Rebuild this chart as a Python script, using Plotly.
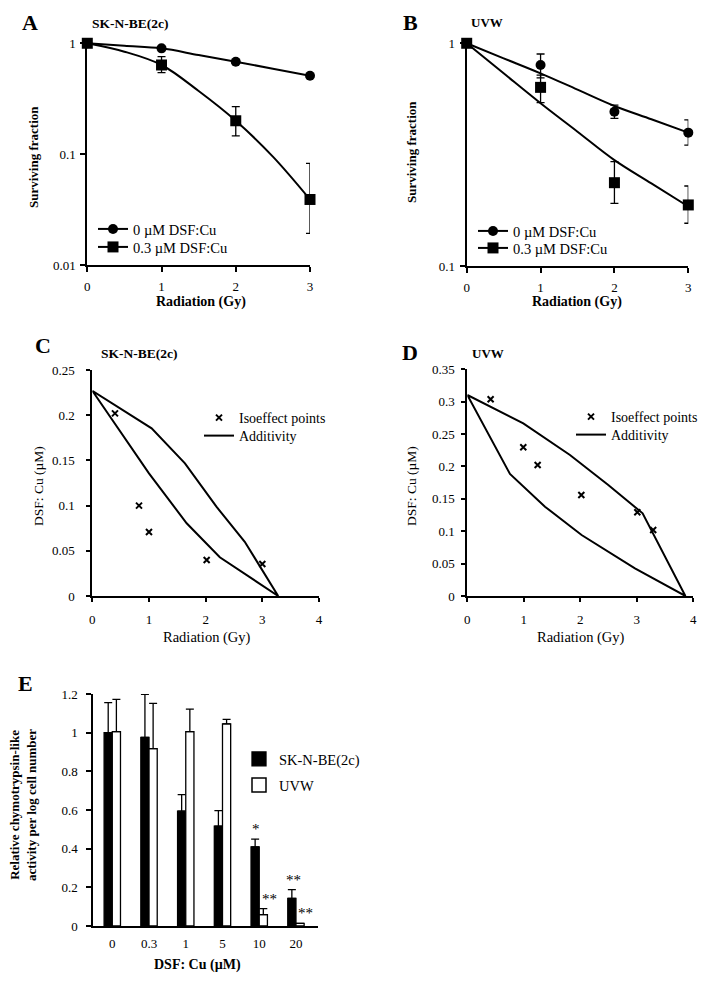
import plotly.graph_objects as go

# ---------------- data ----------------
dose = [0, 1, 2, 3]
fit_dose = [0, 0.5, 1, 1.5, 2, 2.5, 3]

# Panel A  SK-N-BE(2c)
a_ctrl = [1.0, 0.90, 0.682, 0.51]
a_dsf = [1.0, 0.637, 0.20, 0.039]
a_dsf_hi = [1.0, 0.757, 0.268, 0.0826]
a_dsf_lo = [1.0, 0.543, 0.146, 0.0193]
a_fit_ctrl = [1.0, 0.949, 0.90, 0.783, 0.682, 0.59, 0.51]
a_fit_dsf = [1.0, 0.84, 0.637, 0.371, 0.20, 0.095, 0.039]

# Panel B  UVW
b_ctrl = [1.0, 0.799, 0.493, 0.397]
b_ctrl_hi = [1.0, 0.895, 0.528, 0.453]
b_ctrl_lo = [1.0, 0.70, 0.46, 0.349]
b_dsf = [1.0, 0.634, 0.2366, 0.188]
b_dsf_hi = [1.0, 0.72, 0.294, 0.2287]
b_dsf_lo = [1.0, 0.541, 0.191, 0.1556]
b_fit_ctrl = [1.0, 0.856, 0.733, 0.619, 0.523, 0.456, 0.397]
b_fit_dsf = [1.0, 0.733, 0.538, 0.401, 0.299, 0.235, 0.185]

# Panel C  isobologram SK-N-BE(2c)
c_iso_x = [0.40, 0.824, 1.0, 2.018, 3.0]
c_iso_y = [0.202, 0.100, 0.0708, 0.0398, 0.0354]
c_upper_x = [0, 1.047, 1.635, 2.19, 2.69, 3.28]
c_upper_y = [0.227, 0.1855, 0.1468, 0.0988, 0.060, 0]
c_lower_x = [0, 1.0, 1.665, 2.25, 3.28]
c_lower_y = [0.227, 0.1357, 0.0804, 0.0428, 0]

# Panel D  isobologram UVW
d_iso_x = [0.413, 0.991, 1.245, 2.018, 3.009, 3.29]
d_iso_y = [0.3037, 0.2296, 0.2023, 0.156, 0.1292, 0.1019]
d_upper_x = [0, 0.991, 1.817, 2.495, 3.103, 3.86]
d_upper_y = [0.3104, 0.2666, 0.2177, 0.1714, 0.1276, 0]
d_lower_x = [0, 0.755, 1.375, 2.023, 2.967, 3.86]
d_lower_y = [0.3104, 0.1884, 0.1379, 0.0942, 0.0427, 0]

# Panel E  chymotrypsin-like activity
e_conc = ["0", "0.3", "1", "5", "10", "20"]
e_sk = [1.0, 0.975, 0.594, 0.516, 0.409, 0.143]
e_sk_hi = [1.155, 1.198, 0.68, 0.597, 0.449, 0.188]
e_uvw = [1.005, 0.917, 1.005, 1.045, 0.059, 0.014]
e_uvw_hi = [1.172, 1.152, 1.122, 1.069, 0.09, 0.014]
e_stars = ["*", "**", "**", "**"]
e_star_x = [3.91, 4.27, 4.94, 5.25]
e_star_y = [0.449, 0.09, 0.188, 0.014]

# ---------------- helpers ----------------
W, H = 714, 984
OFF = 8  # page body margin of the browser
FONT = "Liberation Serif"


def fx(p):
    return (p - OFF) / W


def fy(p):
    return 1 - (p - OFF) / H


def diff(a, b):
    return [x - y for x, y in zip(a, b)]


def axis(**kw):
    base = dict(showline=True, linecolor="black", linewidth=2, ticks="outside",
                ticklen=5, tickwidth=1.5, tickcolor="black", showgrid=False,
                zeroline=False, fixedrange=True, layer="below traces", automargin=False,
                tickfont=dict(family=FONT, size=13, color="black"))
    base.update(kw)
    return base


def leg(x, y, size=14):
    return dict(x=fx(x), y=fy(y), xanchor="left", yanchor="middle",
                bgcolor="rgba(0,0,0,0)", borderwidth=0,
                font=dict(family=FONT, size=size, color="black"))


def txt(x, y, s, size=13, bold=False, angle=0):
    return dict(x=fx(x), y=fy(y), xref="paper", yref="paper",
                text=f"<b>{s}</b>" if bold else s, showarrow=False,
                font=dict(family=FONT, size=size, color="black"),
                textangle=angle, xanchor="center", yanchor="middle")


fig = go.Figure()
LW = 2

# ---------------- Panel A ----------------
fig.add_trace(go.Scatter(x=fit_dose, y=a_fit_ctrl, mode="lines", line=dict(color="black", width=LW, shape="spline"),
                         xaxis="x", yaxis="y", showlegend=False))
fig.add_trace(go.Scatter(x=fit_dose, y=a_fit_dsf, mode="lines", line=dict(color="black", width=LW, shape="spline"),
                         xaxis="x", yaxis="y", showlegend=False))
fig.add_trace(go.Scatter(x=dose, y=a_ctrl, mode="markers", marker=dict(symbol="circle", size=10, color="black"),
                         xaxis="x", yaxis="y", showlegend=False, cliponaxis=False))
fig.add_trace(go.Scatter(x=dose, y=a_dsf, mode="markers", marker=dict(symbol="square", size=11, color="black"),
                         error_y=dict(type="data", symmetric=False, array=diff(a_dsf_hi, a_dsf),
                                      arrayminus=diff(a_dsf, a_dsf_lo), color="black", thickness=1.3, width=4),
                         xaxis="x", yaxis="y", showlegend=False, cliponaxis=False))
fig.add_trace(go.Scatter(x=[None], y=[None], mode="lines+markers", name="0 µM DSF:Cu",
                         line=dict(color="black", width=LW), marker=dict(symbol="circle", size=10, color="black"),
                         xaxis="x", yaxis="y", legend="legend"))
fig.add_trace(go.Scatter(x=[None], y=[None], mode="lines+markers", name="0.3 µM DSF:Cu",
                         line=dict(color="black", width=LW), marker=dict(symbol="square", size=11, color="black"),
                         xaxis="x", yaxis="y", legend="legend2"))

# ---------------- Panel B ----------------
fig.add_trace(go.Scatter(x=fit_dose, y=b_fit_ctrl, mode="lines", line=dict(color="black", width=LW, shape="spline"),
                         xaxis="x2", yaxis="y2", showlegend=False))
fig.add_trace(go.Scatter(x=fit_dose, y=b_fit_dsf, mode="lines", line=dict(color="black", width=LW, shape="spline"),
                         xaxis="x2", yaxis="y2", showlegend=False))
fig.add_trace(go.Scatter(x=dose, y=b_ctrl, mode="markers", marker=dict(symbol="circle", size=10, color="black"),
                         error_y=dict(type="data", symmetric=False, array=diff(b_ctrl_hi, b_ctrl),
                                      arrayminus=diff(b_ctrl, b_ctrl_lo), color="black", thickness=1.3, width=4),
                         xaxis="x2", yaxis="y2", showlegend=False, cliponaxis=False))
fig.add_trace(go.Scatter(x=dose, y=b_dsf, mode="markers", marker=dict(symbol="square", size=11, color="black"),
                         error_y=dict(type="data", symmetric=False, array=diff(b_dsf_hi, b_dsf),
                                      arrayminus=diff(b_dsf, b_dsf_lo), color="black", thickness=1.3, width=4),
                         xaxis="x2", yaxis="y2", showlegend=False, cliponaxis=False))
fig.add_trace(go.Scatter(x=[None], y=[None], mode="lines+markers", name="0 µM DSF:Cu",
                         line=dict(color="black", width=LW), marker=dict(symbol="circle", size=10, color="black"),
                         xaxis="x2", yaxis="y2", legend="legend3"))
fig.add_trace(go.Scatter(x=[None], y=[None], mode="lines+markers", name="0.3 µM DSF:Cu",
                         line=dict(color="black", width=LW), marker=dict(symbol="square", size=11, color="black"),
                         xaxis="x2", yaxis="y2", legend="legend4"))

# ---------------- Panel C ----------------
fig.add_trace(go.Scatter(x=c_upper_x + c_lower_x[::-1], y=c_upper_y + c_lower_y[::-1], mode="lines",
                         name="Additivity", line=dict(color="black", width=LW),
                         xaxis="x3", yaxis="y3", legend="legend6"))
fig.add_trace(go.Scatter(x=c_iso_x, y=c_iso_y, mode="markers", name="Isoeffect points",
                         marker=dict(symbol="x-thin", size=6, line=dict(color="black", width=2)),
                         xaxis="x3", yaxis="y3", legend="legend5"))

# ---------------- Panel D ----------------
fig.add_trace(go.Scatter(x=d_upper_x + d_lower_x[::-1], y=d_upper_y + d_lower_y[::-1], mode="lines",
                         name="Additivity", line=dict(color="black", width=LW),
                         xaxis="x4", yaxis="y4", legend="legend8"))
fig.add_trace(go.Scatter(x=d_iso_x, y=d_iso_y, mode="markers", name="Isoeffect points",
                         marker=dict(symbol="x-thin", size=6, line=dict(color="black", width=2)),
                         xaxis="x4", yaxis="y4", legend="legend7"))

# ---------------- Panel E ----------------
xi = list(range(len(e_conc)))
fig.add_trace(go.Bar(x=xi, y=e_sk, marker=dict(color="black", line=dict(color="black", width=1.3)),
                     error_y=dict(type="data", symmetric=False, array=diff(e_sk_hi, e_sk),
                                  arrayminus=[0] * len(e_sk), color="black", thickness=1.3, width=4),
                     xaxis="x5", yaxis="y5", showlegend=False))
fig.add_trace(go.Bar(x=xi, y=e_uvw, marker=dict(color="white", line=dict(color="black", width=1.3)),
                     error_y=dict(type="data", symmetric=False, array=diff(e_uvw_hi, e_uvw),
                                  arrayminus=[0] * len(e_uvw), color="black", thickness=1.3, width=4),
                     xaxis="x5", yaxis="y5", showlegend=False))
fig.add_trace(go.Scatter(x=[None], y=[None], mode="markers", name="SK-N-BE(2c)",
                         marker=dict(symbol="square", size=14, color="black", line=dict(color="black", width=1.3)),
                         xaxis="x5", yaxis="y5", legend="legend9"))
fig.add_trace(go.Scatter(x=[None], y=[None], mode="markers", name="UVW",
                         marker=dict(symbol="square", size=14, color="white", line=dict(color="black", width=1.5)),
                         xaxis="x5", yaxis="y5", legend="legend10"))

annotations = []
for s, x, y in zip(e_stars, e_star_x, e_star_y):
    annotations.append(dict(x=x, y=y, xref="x5", yref="y5", text=s, showarrow=False,
                            font=dict(family=FONT, size=15, color="black"),
                            xanchor="center", yanchor="bottom"))

# ---------------- text ----------------
annotations += [
    txt(30, 22, "A", size=22, bold=True),
    txt(130, 23, "SK-N-BE(2c)", size=13.5, bold=True),
    txt(410, 22, "B", size=22, bold=True),
    txt(487, 22, "UVW", size=13, bold=True),
    txt(43, 345, "C", size=22, bold=True),
    txt(139, 354, "SK-N-BE(2c)", size=13.5, bold=True),
    txt(410, 352, "D", size=22, bold=True),
    txt(488, 353, "UVW", size=13, bold=True),
    txt(25, 683, "E", size=22, bold=True),
    # axis titles
    txt(34, 157, "Surviving fraction", size=13, bold=True, angle=-90),
    txt(201, 302, "Radiation (Gy)", size=14, bold=True),
    txt(411, 152, "Surviving fraction", size=13, bold=True, angle=-90),
    txt(577, 302, "Radiation (Gy)", size=14, bold=True),
    txt(38, 486, "DSF: Cu (µM)", size=13.5, angle=-90),
    txt(207, 637, "Radiation (Gy)", size=14.5),
    txt(411, 486, "DSF: Cu (µM)", size=13.5, angle=-90),
    txt(581, 637, "Radiation (Gy)", size=14.5),
    txt(23, 805, "Relative chymotrypsin-like<br>activity per log cell number", size=13, bold=True, angle=-90),
    txt(197, 965, "DSF: Cu (µM)", size=14, bold=True),
]

layout = dict(
    width=W, height=H, margin=dict(l=0, r=0, t=0, b=0, pad=0, autoexpand=False),
    paper_bgcolor="white", plot_bgcolor="white",
    font=dict(family=FONT, color="black"),
    annotations=annotations,
    barmode="group", bargap=0.554, bargroupgap=0,
    # A
    xaxis=axis(domain=[fx(87.3), fx(310)], range=[0, 3], tickvals=[0, 1, 2, 3], anchor="y",
               ticklabelstandoff=3),
    yaxis=axis(domain=[fy(265), fy(41.5)], type="log", range=[-2, 0.016], tickvals=[0.01, 0.1, 1],
               ticktext=["0.01", "0.1", "1"], anchor="x", ticklabelstandoff=2),
    # B
    xaxis2=axis(domain=[fx(466.7), fx(688.3)], range=[0, 3], tickvals=[0, 1, 2, 3], anchor="y2",
                ticklabelstandoff=3),
    yaxis2=axis(domain=[fy(266), fy(41.5)], type="log", range=[-1, 0.008], tickvals=[0.1, 1],
                ticktext=["0.1", "1"], anchor="x2", ticklabelstandoff=2),
    # C
    xaxis3=axis(domain=[fx(92.3), fx(319)], range=[0, 4], tickvals=[0, 1, 2, 3, 4], anchor="y3",
                ticklen=4, ticklabelstandoff=6),
    yaxis3=axis(domain=[fy(596), fy(370)], range=[0, 0.25], tickvals=[0, 0.05, 0.1, 0.15, 0.2, 0.25],
                ticktext=["0", "0.05", "0.1", "0.15", "0.2", "0.25"], anchor="x3", ticklen=4,
                ticklabelstandoff=9),
    # D
    xaxis4=axis(domain=[fx(467.3), fx(693.3)], range=[0, 4], tickvals=[0, 1, 2, 3, 4], anchor="y4",
                ticklen=4, ticklabelstandoff=6),
    yaxis4=axis(domain=[fy(596), fy(369.3)], range=[0, 0.35],
                tickvals=[0, 0.05, 0.1, 0.15, 0.2, 0.25, 0.3, 0.35],
                ticktext=["0", "0.05", "0.1", "0.15", "0.2", "0.25", "0.3", "0.35"], anchor="x4",
                ticklen=4, ticklabelstandoff=4),
    # E
    xaxis5=axis(domain=[fx(93.3), fx(318)], range=[-0.517, 5.6], tickvals=xi, ticktext=e_conc,
                anchor="y5", ticks="", ticklabelstandoff=4),
    yaxis5=axis(domain=[fy(926), fy(694)], range=[0, 1.2], tickvals=[0, 0.2, 0.4, 0.6, 0.8, 1.0, 1.2],
                ticktext=["0", "0.2", "0.4", "0.6", "0.8", "1", "1.2"], anchor="x5", ticklabelstandoff=6),
    # legends
    legend=leg(93, 229, 14.5),
    legend2=leg(93, 247, 14.5),
    legend3=leg(473, 231, 14.5),
    legend4=leg(473, 248, 14.5),
    legend5=leg(199, 418, 14),
    legend6=leg(199, 436, 14),
    legend7=leg(571, 417, 14),
    legend8=leg(571, 435, 14),
    legend9=leg(239, 759, 14.5),
    legend10=leg(239, 785, 14.5),
)
fig.update_layout(**layout)
fig.write_html("out.html")
